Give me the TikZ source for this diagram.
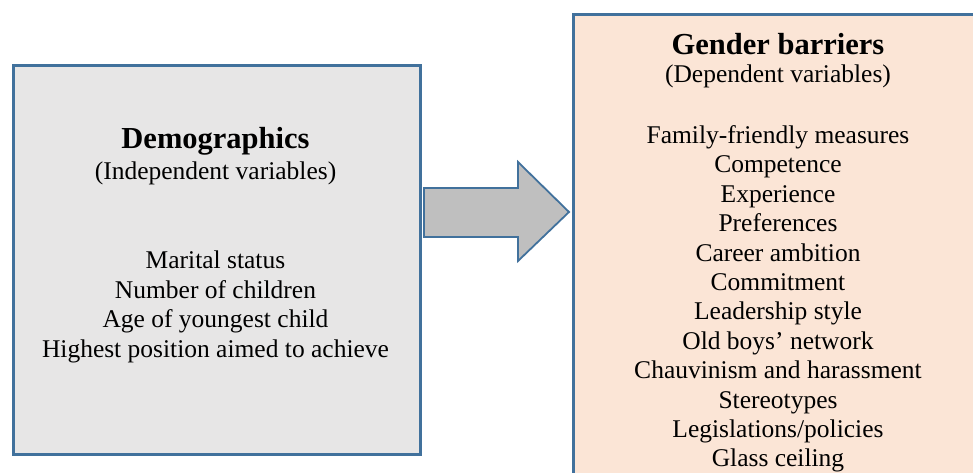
\documentclass[tikz,border=0pt]{standalone}
\usepackage{fontspec}
\setmainfont{Liberation Serif}
\usetikzlibrary{positioning}
\definecolor{boxblue}{RGB}{65,113,156}
\definecolor{demogray}{RGB}{231,230,230}
\definecolor{barrierpeach}{RGB}{251,229,214}
\definecolor{arrowgray}{RGB}{191,191,191}

\begin{document}
\begin{tikzpicture}[x=1pt,y=-1pt,
	box/.style={shape=rectangle,draw=boxblue,line width=2.8pt,anchor=north west,inner sep=0pt},
	title/.style={font=\fontsize{30.5}{34}\selectfont\bfseries},
	sub/.style={font=\fontsize{25.5}{29.4}\selectfont},
	list/.style={font=\fontsize{25.5}{29.4}\selectfont,align=center}]
	\useasboundingbox (0,0) rectangle (973,473);
	\clip (0,0) rectangle (973,473);

	% create the boxes.
	\node (demo) [box,fill=demogray,minimum width=407pt,minimum height=389pt] at (12,64) {};
	\node (barrier) [box,fill=barrierpeach,minimum width=412pt,minimum height=520pt] at (572,13) {};

	% left box texts
	\node (demotitle) [title] at (215.5,141) {Demographics};
	\node (demosub) [sub] at (215.5,173) {(Independent variables)};
	\node (demolist) [list] at (215.5,307) {Marital status\\Number of children\\Age of youngest child\\Highest position aimed to achieve};

	% right box texts
	\node (barriertitle) [title] at (778,44) {Gender barriers};
	\node (barriersub) [sub] at (778,76) {(Dependent variables)};
	\node (barrierlist) [list] at (778,299) {Family-friendly measures\\Competence\\Experience\\Preferences\\Career ambition\\Commitment\\Leadership style\\Old boys’ network\\Chauvinism and harassment\\Stereotypes\\Legislations/policies\\Glass ceiling};

	% the block arrow between them
	\draw[fill=arrowgray,draw=boxblue,line width=1.8pt,line join=miter]
		(424,188) -- (518,188) -- (518,162) -- (569,212) -- (518,261) -- (518,237) -- (424,237) -- cycle;
\end{tikzpicture}
\end{document}
